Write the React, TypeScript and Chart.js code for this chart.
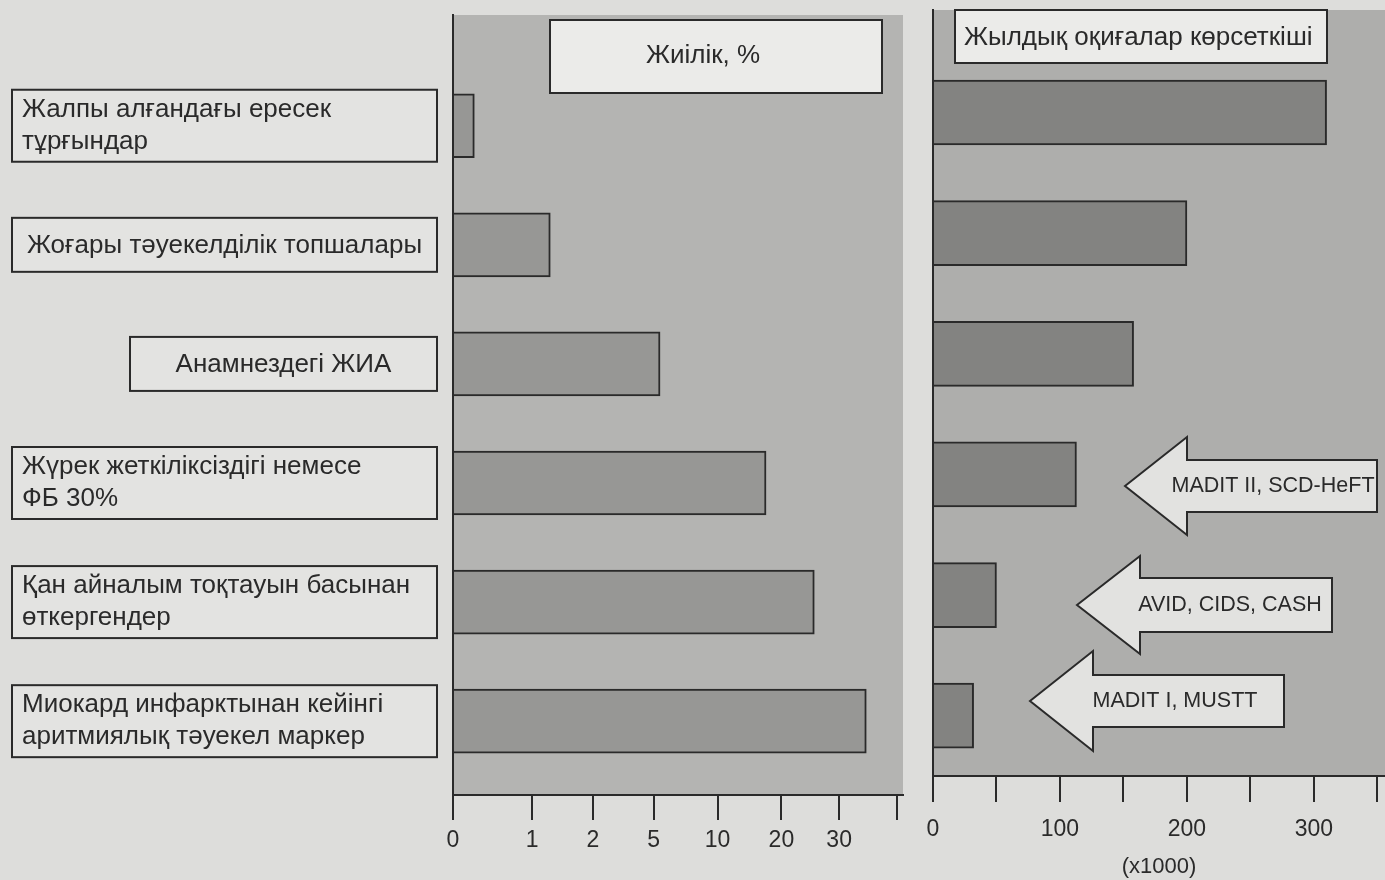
import React, { useEffect, useRef } from 'react';
import { Chart, registerables, LinearScale } from 'chart.js';

Chart.register(...registerables);

// ---- data ----
const CATEGORIES: string[][] = [
  ['Жалпы алғандағы ересек', 'тұрғындар'],
  ['Жоғары тәуекелділік топшалары'],
  ['Анамнездегі ЖИА'],
  ['Жүрек жеткіліксіздігі немесе', 'ФБ 30%'],
  ['Қан айналым тоқтауын басынан', 'өткергендер'],
  ['Миокард инфарктынан кейінгі', 'аритмиялық тәуекел маркер'],
];
const FREQUENCY_PCT = [0.27, 1.3, 5.5, 17.6, 25.7, 34.7];
const ANNUAL_EVENTS_K = [310, 200, 158, 113, 50, 32];

const PCT_TICKS = [0, 1, 2, 5, 10, 20, 30, 40];
const PCT_TICK_LABELS = ['0', '1', '2', '5', '10', '20', '30', ''];
const EVENT_TICKS = [0, 50, 100, 150, 200, 250, 300, 350];
const EVENT_TICK_LABELS = ['0', '', '100', '', '200', '', '300', ''];

const TITLE_FREQ = 'Жиілік, %';
const TITLE_EVENTS = 'Жылдық оқиғалар көрсеткіші';
const EVENTS_UNIT = '(x1000)';
const TRIALS = ['MADIT II, SCD-HeFT', 'AVID, CIDS, CASH', 'MADIT I, MUSTT'];

// ---- scale / layout config ----
// relative spacing of the stepped percentage ticks along the axis
const PCT_TICK_SPACING = [0, 1.3, 2.3, 3.3, 4.35, 5.4, 6.35, 7.3];
const PCT_SPAN = 7.4;

const FONT = '"Liberation Sans", Arial, sans-serif';
const INK = '#2a2a2a';
const PAGE_BG = '#dddddb';
const PANEL_BG_L = '#b4b4b2';
const PANEL_BG_R = '#aeaeac';
const BAR_FILL_L = '#979795';
const BAR_FILL_R = '#838381';
const BOX_FILL = '#e3e3e1';
const TITLE_FILL = '#ebebe9';
const ARROW_FILL = '#e2e2e0';

const LABEL_BOX_LEFT = [12, 12, 130, 12, 12, 12];
const LABEL_BOX_RIGHT = 437;

const ARROWS = [
  { tipX: 1125, headX: 1187, endX: 1377, cy: 486, headHalf: 49, shaftHalf: 26, textX: 1273 },
  { tipX: 1077, headX: 1140, endX: 1332, cy: 605, headHalf: 49, shaftHalf: 27, textX: 1230 },
  { tipX: 1030, headX: 1093, endX: 1284, cy: 701, headHalf: 50, shaftHalf: 26, textX: 1175 },
];

// Linear scale whose ticks are evenly stepped (0,1,2,5,10,20,30,...) and
// interpolated piecewise between them.
class SteppedScale extends LinearScale {
  static id = 'stepped';
  static defaults = LinearScale.defaults;

  toUnits(v: number) {
    const n = PCT_TICKS.length;
    if (v <= PCT_TICKS[0]) return PCT_TICK_SPACING[0];
    for (let k = 1; k < n; k++) {
      if (v <= PCT_TICKS[k]) {
        const f = (v - PCT_TICKS[k - 1]) / (PCT_TICKS[k] - PCT_TICKS[k - 1]);
        return PCT_TICK_SPACING[k - 1] + f * (PCT_TICK_SPACING[k] - PCT_TICK_SPACING[k - 1]);
      }
    }
    return PCT_TICK_SPACING[n - 1];
  }

  fromUnits(u: number) {
    const n = PCT_TICKS.length;
    for (let k = 1; k < n; k++) {
      if (u <= PCT_TICK_SPACING[k]) {
        const f = (u - PCT_TICK_SPACING[k - 1]) / (PCT_TICK_SPACING[k] - PCT_TICK_SPACING[k - 1]);
        return PCT_TICKS[k - 1] + f * (PCT_TICKS[k] - PCT_TICKS[k - 1]);
      }
    }
    return PCT_TICKS[n - 1];
  }

  buildTicks() {
    return PCT_TICKS.map((value) => ({ value }));
  }

  getPixelForValue(value: number) {
    return this.getPixelForDecimal(this.toUnits(value) / PCT_SPAN);
  }

  getValueForPixel(pixel: number) {
    return this.fromUnits(this.getDecimalForPixel(pixel) * PCT_SPAN);
  }
}
Chart.register(SteppedScale as any);

// Stretch the category band so that rows sit with some empty space above them.
function bandPadding(padTop: number, padBottom: number) {
  return (scale: any) => {
    const n = scale.getLabels().length;
    scale._startValue = -0.5 - padTop;
    scale._valueRange = n + padTop + padBottom;
  };
}

function strokeBox(ctx: CanvasRenderingContext2D, x: number, y: number, w: number, h: number, fill: string) {
  ctx.save();
  ctx.fillStyle = fill;
  ctx.fillRect(x, y, w, h);
  ctx.lineWidth = 2;
  ctx.strokeStyle = INK;
  ctx.strokeRect(x, y, w, h);
  ctx.restore();
}

function panelPlugin(color: string) {
  return {
    id: 'panel',
    beforeDraw(chart: any) {
      const { ctx, chartArea: a } = chart;
      ctx.save();
      ctx.fillStyle = color;
      ctx.fillRect(a.left, a.top, a.right - a.left, a.bottom - a.top);
      ctx.restore();
    },
  };
}

const leftDecor = {
  id: 'leftDecor',
  afterDraw(chart: any) {
    const ctx: CanvasRenderingContext2D = chart.ctx;
    const yScale = chart.scales.y;
    // category label boxes
    CATEGORIES.forEach((lines, i) => {
      const cy = yScale.getPixelForValue(i);
      const h = lines.length > 1 ? 72 : 54;
      const x0 = LABEL_BOX_LEFT[i];
      strokeBox(ctx, x0, cy - h / 2, LABEL_BOX_RIGHT - x0, h, BOX_FILL);
      ctx.save();
      ctx.fillStyle = INK;
      ctx.font = `26px ${FONT}`;
      ctx.textBaseline = 'middle';
      if (lines.length === 1) {
        ctx.textAlign = 'center';
        ctx.fillText(lines[0], (x0 + LABEL_BOX_RIGHT) / 2, cy + 1);
      } else {
        ctx.textAlign = 'left';
        lines.forEach((line, k) => ctx.fillText(line, x0 + 10, cy - 16 + k * 32));
      }
      ctx.restore();
    });
    // panel title
    strokeBox(ctx, 550, 20, 332, 73, TITLE_FILL);
    ctx.save();
    ctx.fillStyle = INK;
    ctx.font = `26px ${FONT}`;
    ctx.textAlign = 'center';
    ctx.textBaseline = 'middle';
    ctx.fillText(TITLE_FREQ, 703, 56);
    ctx.restore();
  },
};

const rightDecor = {
  id: 'rightDecor',
  afterDraw(chart: any) {
    const ctx: CanvasRenderingContext2D = chart.ctx;
    strokeBox(ctx, 955, 10, 372, 53, TITLE_FILL);
    ctx.save();
    ctx.fillStyle = INK;
    ctx.font = `26px ${FONT}`;
    ctx.textAlign = 'left';
    ctx.textBaseline = 'middle';
    ctx.fillText(TITLE_EVENTS, 964, 38);
    ctx.restore();

    ARROWS.forEach((a, i) => {
      ctx.save();
      ctx.beginPath();
      ctx.moveTo(a.tipX, a.cy);
      ctx.lineTo(a.headX, a.cy - a.headHalf);
      ctx.lineTo(a.headX, a.cy - a.shaftHalf);
      ctx.lineTo(a.endX, a.cy - a.shaftHalf);
      ctx.lineTo(a.endX, a.cy + a.shaftHalf);
      ctx.lineTo(a.headX, a.cy + a.shaftHalf);
      ctx.lineTo(a.headX, a.cy + a.headHalf);
      ctx.closePath();
      ctx.fillStyle = ARROW_FILL;
      ctx.fill();
      ctx.lineWidth = 2;
      ctx.strokeStyle = INK;
      ctx.stroke();
      ctx.fillStyle = INK;
      ctx.font = `21.5px ${FONT}`;
      ctx.textAlign = 'center';
      ctx.textBaseline = 'middle';
      ctx.fillText(TRIALS[i], a.textX, a.cy);
      ctx.restore();
    });
  },
};

const tickFont = { family: FONT, size: 23 };

export default function App() {
  const leftRef = useRef<HTMLCanvasElement>(null);
  const rightRef = useRef<HTMLCanvasElement>(null);

  useEffect(() => {
    const common = {
      responsive: false,
      animation: false as const,
      devicePixelRatio: 1,
      indexAxis: 'y' as const,
      plugins: { legend: { display: false }, tooltip: { enabled: false } },
    };

    const freqChart = new Chart(leftRef.current!, {
      type: 'bar',
      data: {
        labels: CATEGORIES,
        datasets: [
          {
            label: TITLE_FREQ,
            data: FREQUENCY_PCT,
            backgroundColor: BAR_FILL_L,
            borderColor: INK,
            borderWidth: 2,
            barThickness: 64,
          },
        ],
      },
      options: {
        ...common,
        layout: { padding: { left: 453, right: 482, top: 15, bottom: 0 } },
        scales: {
          x: {
            type: 'stepped' as any,
            min: 0,
            max: 40,
            afterFit: (s: any) => { s.height = 85; s.paddingRight = 0; },
            border: { display: true, color: INK, width: 2 },
            grid: { display: true, drawOnChartArea: false, drawTicks: true, tickLength: 25, lineWidth: 2, color: INK },
            ticks: {
              autoSkip: false,
              maxRotation: 0,
              padding: 7,
              color: INK,
              font: tickFont,
              callback: (_v: any, i: number) => PCT_TICK_LABELS[i],
            },
          },
          y: {
            type: 'category',
            afterBuildTicks: bandPadding(0.43, 0.12),
            afterFit: (s: any) => { s.width = 0; },
            border: { display: true, color: INK, width: 2 },
            grid: { display: false, drawTicks: false },
            ticks: { display: false },
          },
        },
      } as any,
      plugins: [panelPlugin(PANEL_BG_L), leftDecor],
    });

    const eventsChart = new Chart(rightRef.current!, {
      type: 'bar',
      data: {
        labels: CATEGORIES,
        datasets: [
          {
            label: TITLE_EVENTS,
            data: ANNUAL_EVENTS_K,
            backgroundColor: BAR_FILL_R,
            borderColor: INK,
            borderWidth: 2,
            barThickness: 65,
          },
        ],
      },
      options: {
        ...common,
        layout: { padding: { left: 933, right: 0, top: 10, bottom: 0 } },
        scales: {
          x: {
            type: 'linear',
            min: 0,
            max: 356,
            afterBuildTicks: (s: any) => { s.ticks = EVENT_TICKS.map((value) => ({ value })); },
            afterFit: (s: any) => { s.height = 104; s.paddingRight = 0; },
            border: { display: true, color: INK, width: 2 },
            grid: { display: true, drawOnChartArea: false, drawTicks: true, tickLength: 26, lineWidth: 2, color: INK },
            ticks: {
              autoSkip: false,
              maxRotation: 0,
              padding: 14,
              color: INK,
              font: tickFont,
              callback: (_v: any, i: number) => EVENT_TICK_LABELS[i],
            },
            title: {
              display: true,
              text: EVENTS_UNIT,
              color: INK,
              font: { family: FONT, size: 22 },
              padding: { top: 0, bottom: 0 },
            },
          },
          y: {
            type: 'category',
            afterBuildTicks: bandPadding(0.35, 0),
            afterFit: (s: any) => { s.width = 0; },
            border: { display: true, color: INK, width: 2 },
            grid: { display: false, drawTicks: false },
            ticks: { display: false },
          },
        },
      } as any,
      plugins: [panelPlugin(PANEL_BG_R), rightDecor],
    });

    return () => {
      freqChart.destroy();
      eventsChart.destroy();
    };
  }, []);

  return (
    <div
      style={{
        position: 'fixed',
        left: 0,
        top: 0,
        width: 1385,
        height: 880,
        background: PAGE_BG,
        overflow: 'hidden',
      }}
    >
      <canvas ref={leftRef} width={1385} height={880} style={{ position: 'absolute', left: 0, top: 0 }} />
      <canvas ref={rightRef} width={1385} height={880} style={{ position: 'absolute', left: 0, top: 0 }} />
    </div>
  );
}
